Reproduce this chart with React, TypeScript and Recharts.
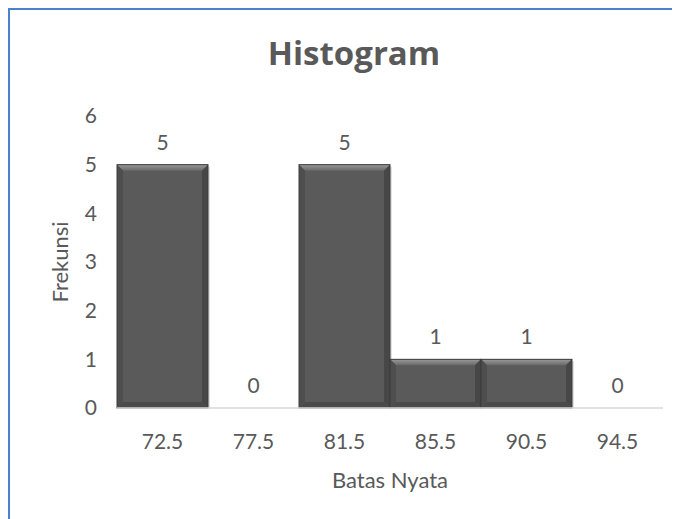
import { BarChart, Bar, XAxis, YAxis, LabelList, Label } from 'recharts';

// Histogram data (Batas Nyata vs Frekunsi)
const categories = ['72.5', '77.5', '81.5', '85.5', '90.5', '94.5'];
const frekuensi = [5, 0, 5, 1, 1, 0];
const yTicks = [0, 1, 2, 3, 4, 5, 6];

const data = categories.map((c, i) => ({ batas: c, frek: frekuensi[i] }));

const textColor = '#595959';
const font = 'Lato, "Open Sans", sans-serif';

// bar with a simple bevel, roughly like the Excel style
const BevelBar = (props: any) => {
    const { x, y, width: w, height: h } = props;
    if (!h || h <= 0) return null;
    const b = Math.min(6, h / 3);
    return (
        <g>
            <rect x={x + 2} y={y + 2} width={w} height={h - 2} fill="rgba(0,0,0,0.12)" />
            <rect x={x} y={y} width={w} height={h} fill="#5a5a5a" />
            <polygon points={`${x},${y} ${x + w},${y} ${x + w - b},${y + b} ${x + b},${y + b}`} fill="url(#bevelTop)" />
            <polygon points={`${x},${y} ${x + b},${y + b} ${x + b},${y + h - b} ${x},${y + h}`} fill="#4e4e4e" />
            <polygon points={`${x + w},${y} ${x + w - b},${y + b} ${x + w - b},${y + h - b} ${x + w},${y + h}`} fill="#474747" />
            <polygon points={`${x},${y + h} ${x + b},${y + h - b} ${x + w - b},${y + h - b} ${x + w},${y + h}`} fill="#4a4a4a" />
            <rect x={x} y={y} width={w} height={h} fill="none" stroke="#3c3c3c" strokeWidth={1} />
        </g>
    );
};

export default function App() {
    return (
        <div style={{ position: 'relative', width: 672, height: 511, overflow: 'hidden', background: '#fff' }}>
            <div
                style={{
                    position: 'absolute',
                    left: 0,
                    top: 0,
                    width: 800,
                    height: 800,
                    border: '2px solid #4f81c9',
                    boxSizing: 'border-box',
                }}
            />
            <div
                style={{
                    position: 'absolute',
                    left: 0,
                    top: 25,
                    width: 692,
                    textAlign: 'center',
                    fontFamily: '"Open Sans", sans-serif',
                    fontWeight: 700,
                    fontSize: 33,
                    lineHeight: '40px',
                    color: textColor,
                }}
            >
                Histogram
            </div>
            <div style={{ position: 'absolute', left: 0, top: 0 }}>
                <BarChart
                    width={672}
                    height={511}
                    data={data}
                    margin={{ top: 108, right: 17, left: 0, bottom: 0 }}
                    barCategoryGap={0}
                    style={{ fontFamily: font }}
                >
                    <defs>
                        <linearGradient id="bevelTop" x1="0" y1="0" x2="0" y2="1">
                            <stop offset="0%" stopColor="#9a9a9a" />
                            <stop offset="100%" stopColor="#686868" />
                        </linearGradient>
                    </defs>
                    <XAxis
                        dataKey="batas"
                        height={111}
                        tickLine={false}
                        tickSize={0}
                        tickMargin={26}
                        axisLine={{ stroke: '#d9d9d9', strokeWidth: 1.5 }}
                        tick={{ fill: textColor, fontSize: 21 }}
                    >
                        <Label
                            content={({ viewBox }: any) => (
                                <text
                                    x={viewBox.x + viewBox.width / 2}
                                    y={viewBox.y + 71}
                                    textAnchor="middle"
                                    dominantBaseline="central"
                                    fill={textColor}
                                    fontSize={22}
                                    fontFamily={font}
                                >
                                    Batas Nyata
                                </text>
                            )}
                        />
                    </XAxis>
                    <YAxis
                        width={109}
                        domain={[0, 6]}
                        ticks={yTicks}
                        axisLine={false}
                        tickLine={false}
                        tickSize={0}
                        tickMargin={20}
                        tick={{ fill: textColor, fontSize: 21 }}
                    >
                        <Label
                            content={({ viewBox }: any) => {
                                const cx = viewBox.x + 51;
                                const cy = viewBox.y + viewBox.height / 2;
                                return (
                                    <text
                                        x={cx}
                                        y={cy}
                                        transform={`rotate(-90, ${cx}, ${cy})`}
                                        textAnchor="middle"
                                        dominantBaseline="central"
                                        fill={textColor}
                                        fontSize={22}
                                        fontFamily={font}
                                    >
                                        Frekunsi
                                    </text>
                                );
                            }}
                        />
                    </YAxis>
                    <Bar dataKey="frek" shape={<BevelBar />} isAnimationActive={false}>
                        <LabelList dataKey="frek" position="top" offset={15} fill={textColor} fontSize={21} />
                    </Bar>
                </BarChart>
            </div>
        </div>
    );
}
